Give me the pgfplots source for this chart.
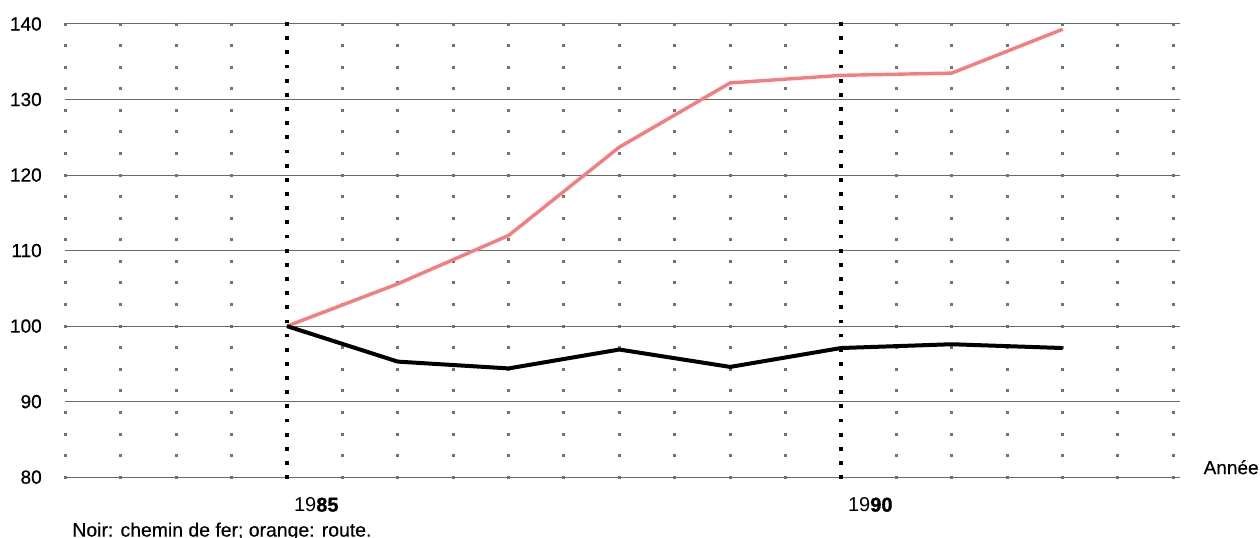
\documentclass[border=0pt]{standalone}
\usepackage{fontspec}
\setmainfont{Liberation Sans}
\usepackage{pgfplots}
\pgfplotsset{compat=1.18}
\definecolor{route}{RGB}{248,124,126}
\definecolor{gridc}{RGB}{105,105,105}
\definecolor{dotc}{RGB}{115,115,115}
\newcommand{\medfont}{\addfontfeature{FakeBold=0.6}}
\begin{document}
\begin{tikzpicture}
\begin{axis}[
  scale only axis, width=557.3pt, height=226.6pt,
  xmin=1983, xmax=1993.06, ymin=80, ymax=140,
  axis line style={draw=none}, tick style={draw=none},
  ytick={80,90,...,140}, ymajorgrids,
  major grid style={gridc, line width=0.5pt},
  xtick={1985,1990}, xticklabels={19\textbf{\addfontfeature{FakeBold=1.2}85},19\textbf{\addfontfeature{FakeBold=1.2}90}},
  xticklabel style={anchor=north west, yshift=-6.7pt, font=\fontsize{10}{12}\selectfont},
  yticklabel style={xshift=-8.3pt, font=\fontsize{9.5}{11}\selectfont\medfont},
  /pgf/number format/assume math mode=true,
  clip=false,
]
\coordinate (sw) at (rel axis cs:0,0);
\coordinate (ne) at (rel axis cs:1,1);
% grey dot grid
\pgfplotsinvokeforeach{1983,1983.5,1984,1984.5,1985.5,1986,1986.5,1987,1987.5,1988,1988.5,1989,1989.5,1990.5,1991,1991.5,1992,1992.5,1993}{
  \draw[dotc, line width=1.5pt, line cap=butt, dash pattern=on 1.5pt off 9.29pt]
    ([yshift=-0.75pt]axis cs:#1,80) -- ([yshift=0.75pt]axis cs:#1,140);
}
% data
\addplot[route, line width=1.7pt, line join=round] coordinates {
  (1985,100) (1986,105.6) (1987,112) (1988,123.7) (1989,132.2) (1990,133.2) (1991,133.5) (1992,139.3)};
\addplot[black, line width=2pt, line join=round] coordinates {
  (1985,100) (1986,95.3) (1987,94.4) (1988,96.9) (1989,94.6) (1990,97.1) (1991,97.6) (1992,97.1)};
% bold dotted year markers
\pgfplotsinvokeforeach{1985,1990}{
  \draw[black, line width=1.9pt, line cap=butt, dash pattern=on 1.9pt off 5.18pt]
    ([yshift=-0.95pt]axis cs:#1,80) -- ([yshift=0.95pt]axis cs:#1,140);
}
\node[anchor=base west, font=\fontsize{9.5}{11}\selectfont\addfontfeature{FakeBold=0.3}] at ([xshift=8.3pt,yshift=1.5pt]axis cs:1993.06,80) {Année};
\node[anchor=base west, inner sep=0pt, font=\fontsize{9.7}{11}\selectfont\addfontfeature{FakeBold=0.3}] at ([xshift=3.3pt,yshift=-29.7pt]axis cs:1983,80) {Noir: chemin de fer; orange: route.};
\end{axis}
\pgfresetboundingbox
\path ([shift={(-32.7pt,-30.35pt)}]sw) rectangle ([shift={(40pt,12pt)}]ne);
\end{tikzpicture}
\end{document}
